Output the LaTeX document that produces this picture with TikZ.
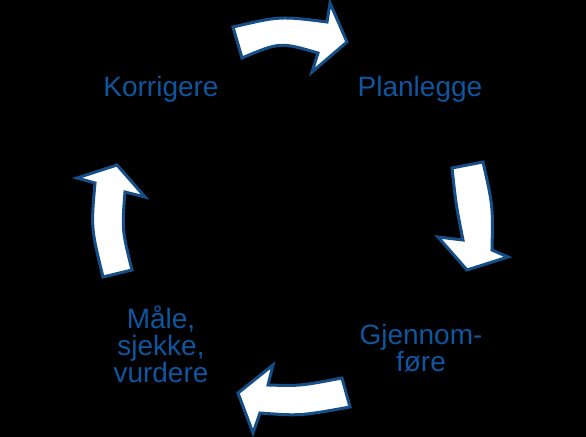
\documentclass[tikz,border=0pt]{standalone}
\usepackage{fontspec}
\setmainfont{Liberation Sans}
\usetikzlibrary{positioning}

\definecolor{tekstblaa}{RGB}{14,86,160}
\definecolor{kantblaa}{RGB}{22,78,135}

\begin{document}
\begin{tikzpicture}[x=0.5pt, y=-0.5pt]
            % Stiler
            \tikzstyle{fase}=[text=tekstblaa, inner sep=0pt, align=center, anchor=base,
                              font=\fontsize{14}{13.5}\selectfont]
            \tikzstyle{pil}=[fill=white, draw=kantblaa, line width=1.5pt, line join=miter]

            % Bakgrunn
            \fill[black] (0,0) rectangle (586,437);
            \useasboundingbox (0,0) rectangle (586,437);

            % Faser
            \node[fase] (plan) at (420,97) {Planlegge};
            \node[fase] (gjen) at (421,372) {Gjennom-\\føre};
            \node[fase] (maal) at (161,383) {Måle,\\sjekke,\\vurdere};
            \node[fase] (korr) at (161,97) {Korrigere};

            % Piler
            \draw[pil] (233,27) .. controls (280,16) .. (327,22) -- (330,3) -- (347,42)
                       -- (312,72) -- (318,53) .. controls (280,42) .. (242,58) -- cycle;
            \draw[pil] (483,162) .. controls (493,206) .. (492,250) -- (508,257) -- (467,270)
                       -- (438,237) -- (463,240) .. controls (456,205) .. (452,168) -- cycle;
            \draw[pil] (350,407) .. controls (300,416) .. (260,413) -- (253,433) -- (238,393)
                       -- (273,365) -- (268,385) .. controls (300,386) .. (342,378) -- cycle;
            \draw[pil] (103,277) .. controls (91,228) .. (95,183) -- (77,178) -- (117,165)
                       -- (145,197) -- (125,192) .. controls (122,230) .. (132,270) -- cycle;
        \end{tikzpicture}
\end{document}
